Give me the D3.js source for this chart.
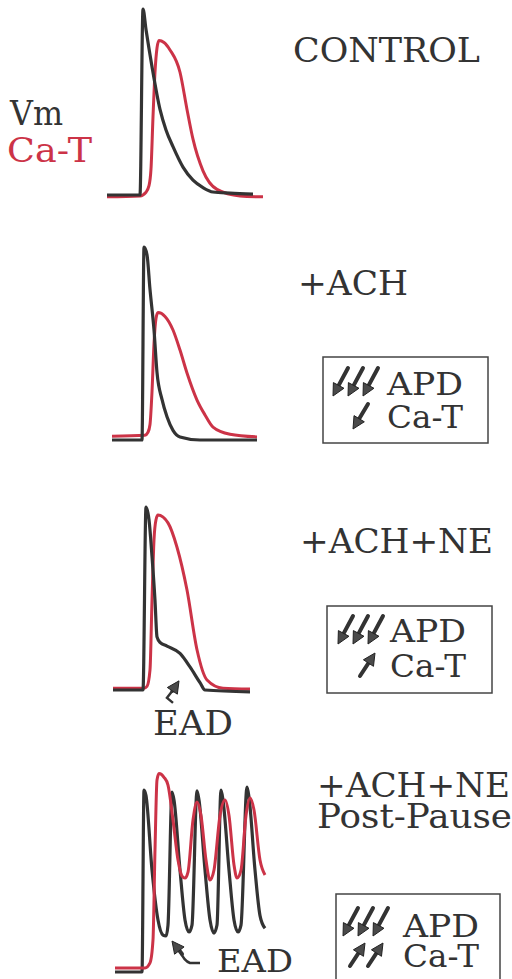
<!DOCTYPE html>
<html>
<head>
<meta charset="utf-8">
<script src="https://cdn.jsdelivr.net/npm/d3@7"></script>
<style>
  body { margin: 0; background: #fff; }
</style>
</head>
<body>
<div id="chart"></div>
<script>
// traces: [time (ms), amplitude (% of Vm peak)]
const vmControl = [[0,0],[66,0],[72,100],[78,89],[90,69],[106,46],[118,35],[132,26],[152,15],[172,8],[192,4],[212,1.6],[246,1],[292,0.5]];
const caControl = [[0,-1],[66,-0.5],[78,1.5],[84,5],[88,14],[92,42],[96,66],[100,79],[104,83],[114,82],[126,78],[146,66],[160,46],[172,30],[192,13],[220,3],[266,-0.5],[312,-1]];

const vmAch = [[0,0],[60,0],[64,100],[70,96],[76,78],[84,57],[90,35],[100,21],[110,12],[122,5],[136,1.6],[176,0],[290,0]];
const caAch = [[0,2],[66,2.5],[72,4],[76,8],[80,25],[84,50],[88,63],[92,66],[106,64],[122,57],[136,46.6],[150,34.7],[170,20.7],[186,13],[202,6.7],[236,3],[290,1.6]];

const vmAchNe = [[0,0],[60,0],[66,100],[72,93],[78,73],[84,49],[88,29],[94,26],[108,24],[134,20],[154,12.6],[174,4],[184,0],[274,-1]];
const caAchNe = [[0,1],[62,1],[68,2],[74,11],[78,49],[82,82],[86,93],[90,95.6],[110,91.3],[128,78],[148,54.6],[168,22],[188,5.5],[220,1],[274,0.5]];

const vmPause = [[0,0],[54,0],[58,100],[62,97],[74,56],[86,28.6],[96,20.3],[102,19.8],[106,25.8],[114,98.9],[118,94.5],[130,56],[140,28.6],[148,22],[154,25.8],[164,99.5],[168,94.5],[180,56],[190,28.6],[198,21.4],[204,25.8],[212,100],[216,94.5],[228,56],[238,28.6],[246,22],[252,25.8],[264,101.6],[268,96],[280,56],[290,31],[300,24]];
const caPause = [[0,2.2],[60,2.2],[70,5],[76,17.6],[80,67],[84,105.5],[88,109],[98,107],[106,102.7],[116,83.5],[126,61.5],[134,52.7],[140,51.6],[146,54.9],[156,83.5],[164,93.4],[172,86],[182,61.5],[190,50.5],[198,56],[210,86],[220,94.5],[228,86],[238,58.8],[244,51.6],[252,56],[262,86],[270,95.6],[278,89],[290,61.5],[300,53.3]];

const panelTitles = [['CONTROL'], ['+ACH'], ['+ACH+NE'], ['+ACH+NE', 'Post-Pause']];
const boxRows = ['APD', 'Ca-T'];
const apdArrows = [0, 3, 3, 3];   // arrows pointing down
const caArrows = [0, -1, 1, 2];   // negative = down, positive = up

const vmColor = '#333';
const caColor = '#cc3347';
const serif = "'DejaVu Serif', 'Noto Serif', 'Liberation Serif', serif";

const svg = d3.select('#chart').append('svg')
  .attr('width', 512)
  .attr('height', 979)
  .attr('font-family', serif)
  .style('font-family', serif);

// where each panel sits on the page
const panels = [
  {vm: vmControl, ca: caControl, x0: 107, base: 195, top: 9, redOnTop: false,
   title: {x: 293, y: 62, w: [187]}},
  {vm: vmAch, ca: caAch, x0: 112, base: 440, top: 247, redOnTop: false,
   title: {x: 298, y: 295, w: [110]},
   box: {x: 323, y: 357, w: 165, h: 86, ax: 333, ay: 368, tx: 387, ty: [395, 428], cx: 353}},
  {vm: vmAchNe, ca: caAchNe, x0: 113, base: 690, top: 507, redOnTop: false,
   title: {x: 300, y: 553, w: [193]},
   box: {x: 327, y: 606, w: 165, h: 87, ax: 338, ay: 616, tx: 390, ty: [642, 677], cx: 360}},
  {vm: vmPause, ca: caPause, x0: 115, base: 972, top: 790, redOnTop: true,
   title: {x: 317, y: 797, w: [193, 195], dy: 31},
   box: {x: 336, y: 894, w: 164, h: 100, ax: 343, ay: 908, tx: 403, ty: [937, 967], cx: 350}}
];

function arrow(g, x1, y1, x2, y2) {
  const ang = Math.atan2(y2 - y1, x2 - x1);
  const hl = 12, hw = 6;
  const bx = x2 - hl * Math.cos(ang), by = y2 - hl * Math.sin(ang);
  g.append('line')
    .attr('x1', x1).attr('y1', y1).attr('x2', bx).attr('y2', by)
    .attr('stroke', '#333').attr('stroke-width', 4).attr('stroke-linecap', 'round');
  const px = -Math.sin(ang) * hw, py = Math.cos(ang) * hw;
  g.append('path')
    .attr('d', `M${x2},${y2}L${bx + px},${by + py}L${bx - px},${by - py}Z`)
    .attr('fill', '#4a4a4a').attr('stroke', '#222').attr('stroke-width', 1);
}

panels.forEach((p, i) => {
  const g = svg.append('g');
  const x = d3.scaleLinear().domain([0, 300]).range([p.x0, p.x0 + 150]);
  const y = d3.scaleLinear().domain([0, 100]).range([p.base, p.top]);
  const line = d3.line()
    .x(d => x(d[0]))
    .y(d => y(d[1]))
    .curve(d3.curveMonotoneX);

  const traces = [{d: p.ca, c: caColor, w: 3}, {d: p.vm, c: vmColor, w: 3.2}];
  if (p.redOnTop) traces.reverse();
  traces.forEach(t => {
    g.append('path').datum(t.d)
      .attr('d', line)
      .attr('fill', 'none').attr('stroke', t.c).attr('stroke-width', t.w);
  });

  // panel title
  panelTitles[i].forEach((t, j) => {
    g.append('text')
      .attr('x', p.title.x)
      .attr('y', p.title.y + j * (p.title.dy || 0))
      .attr('font-size', 34)
      .attr('fill', '#333')
      .attr('textLength', p.title.w[j])
      .attr('lengthAdjust', 'spacingAndGlyphs')
      .text(t);
  });

  if (p.box) {
    const b = p.box;
    g.append('rect')
      .attr('x', b.x).attr('y', b.y).attr('width', b.w).attr('height', b.h)
      .attr('fill', 'none').attr('stroke', '#444').attr('stroke-width', 1.5);
    boxRows.forEach((t, j) => {
      g.append('text')
        .attr('x', b.tx).attr('y', b.ty[j])
        .attr('font-size', 31)
        .attr('fill', '#333')
        .attr('textLength', 76)
        .attr('lengthAdjust', 'spacingAndGlyphs')
        .text(t);
    });
    d3.range(apdArrows[i]).forEach(k => {
      const ax = b.ax + k * 15;
      arrow(g, ax + 15, b.ay, ax, b.ay + 28);
    });
    const n = Math.abs(caArrows[i]);
    const cy = b.ty[1] - 24;
    d3.range(n).forEach(k => {
      const cx = b.cx + k * 18;
      if (caArrows[i] < 0) arrow(g, cx + 15, cy, cx, cy + 25);
      else arrow(g, cx, cy + 23, cx + 15, cy);
    });
  }

  // EAD markers
  if (i === 2) {
    const ax = x(130), ay = y(5);
    g.append('path')
      .attr('d', `M${ax - 5},${ay + 22}L${ax - 11},${ay + 17}L${ax - 4},${ay + 8}`)
      .attr('fill', 'none').attr('stroke', '#333').attr('stroke-width', 2.5);
    arrow(g, ax - 5, ay + 9, ax + 1, ay);
    g.append('text').attr('x', 153).attr('y', 735)
      .attr('font-size', 33).attr('fill', '#333')
      .attr('textLength', 80).attr('lengthAdjust', 'spacingAndGlyphs')
      .text('EAD');
  }
  if (i === 3) {
    const ax = x(114), ay = y(17);
    g.append('path')
      .attr('d', `M${ax + 28},${ay + 22}L${ax + 18},${ay + 22}Q${ax + 12},${ay + 20} ${ax + 8},${ay + 10}`)
      .attr('fill', 'none').attr('stroke', '#333').attr('stroke-width', 2.5);
    arrow(g, ax + 10, ay + 13, ax, ay);
    g.append('text').attr('x', 217).attr('y', 972)
      .attr('font-size', 31).attr('fill', '#333')
      .attr('textLength', 76).attr('lengthAdjust', 'spacingAndGlyphs')
      .text('EAD');
  }
});

// trace legend
svg.append('text').attr('x', 10).attr('y', 125)
  .attr('font-size', 34).attr('fill', '#333')
  .attr('textLength', 53).attr('lengthAdjust', 'spacingAndGlyphs')
  .text('Vm');
svg.append('text').attr('x', 7).attr('y', 162)
  .attr('font-size', 34).attr('fill', caColor)
  .attr('textLength', 85).attr('lengthAdjust', 'spacingAndGlyphs')
  .text('Ca-T');
</script>
</body>
</html>
